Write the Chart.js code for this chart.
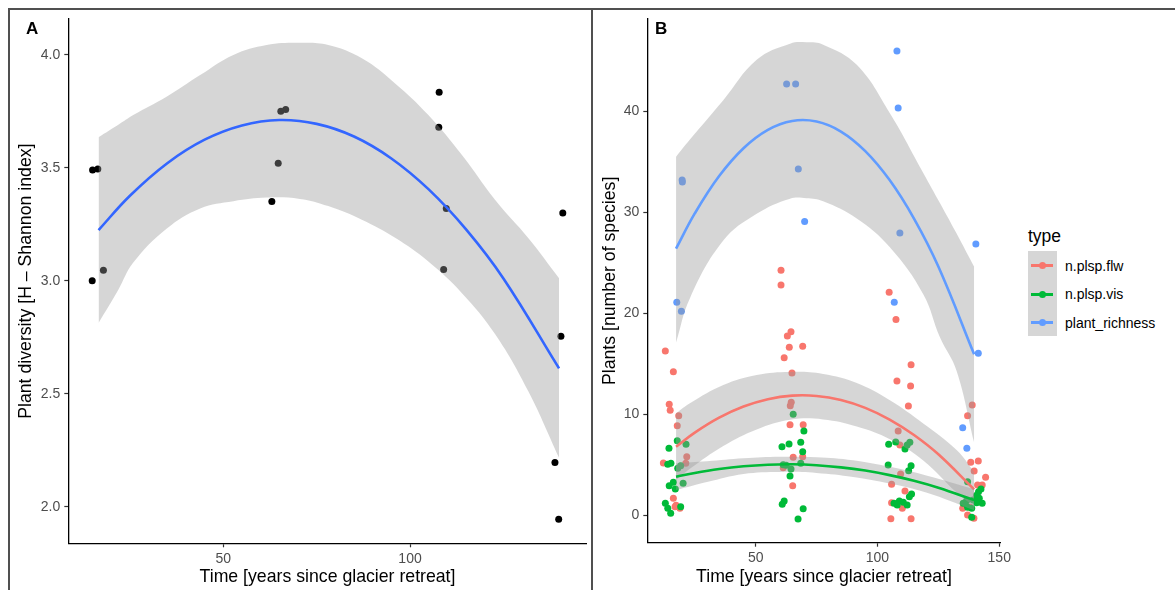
<!DOCTYPE html>
<html>
<head>
<meta charset="utf-8">
<script src="https://cdn.jsdelivr.net/npm/chart.js@4.4.1/dist/chart.umd.min.js"></script>
<style>
  body { margin: 0; background: #fff; font-family: "Liberation Sans", Arial, sans-serif; }
  #page { position: relative; width: 1175px; height: 590px; overflow: hidden; background: #fff; }
  .rule { position: absolute; background: #505050; }
  canvas { position: absolute; top: 0; }
  .tag { position: absolute; font-weight: bold; font-size: 17px; line-height: 17px; color: #000; }
  .lg { position: absolute; color: #000; }
  .key-line { position: absolute; height: 3px; }
  .key-dot { position: absolute; width: 7px; height: 7px; border-radius: 50%; }
</style>
</head>
<body>
<div id="page">
  <div class="rule" style="left:8px;top:8px;width:1167px;height:2px"></div>
  <div class="rule" style="left:8px;top:8px;width:2px;height:582px"></div>
  <div class="rule" style="left:591px;top:8px;width:2px;height:582px"></div>
  <canvas id="chartA" width="583" height="590" style="left:10px"></canvas>
  <canvas id="chartB" width="425" height="590" style="left:594px"></canvas>
  <div class="tag" style="left:26px;top:20px">A</div>
  <div class="tag" style="left:655px;top:20px">B</div>
  <div id="legend"></div>
</div>
<script>
// Panel A: Shannon diversity per plot
const timeA = [15.0, 16.4, 14.9, 17.9, 63.0, 64.7, 65.4, 66.7, 107.8, 107.7, 109.7, 109.0, 140.9, 140.4, 138.8, 139.8];
const shannon = [3.49, 3.494, 3.0, 3.046, 3.35, 3.52, 3.75, 3.758, 3.834, 3.679, 3.319, 3.049, 3.30, 2.754, 2.195, 1.944];

const fitAX = [16.6, 25, 35, 45, 55, 65, 75, 85, 95, 105, 115, 125, 139.9];
const fitAY = [3.224, 3.376, 3.520, 3.624, 3.687, 3.711, 3.694, 3.638, 3.541, 3.404, 3.227, 3.010, 2.612];

const bandAX = [16.6, 21.9, 25.9, 34.8, 43.8, 52.7, 61.6, 70.5, 78.1, 87.1, 96.0, 104.9, 113.9, 122.8, 131.7, 139.9];
const bandAUp = [3.635, 3.69, 3.733, 3.814, 3.910, 3.999, 4.043, 4.053, 4.043, 3.984, 3.873, 3.733, 3.556, 3.357, 3.188, 3.011];
const bandALo = [2.813, 2.96, 3.08, 3.23, 3.32, 3.352, 3.368, 3.362, 3.33, 3.27, 3.19, 3.085, 2.945, 2.763, 2.51, 2.217];

const xTicksA = [50, 100];
const yTicksA = [2.0, 2.5, 3.0, 3.5, 4.0];

// Panel B: plant counts by type
const flwX = [12.9, 16.2, 14.5, 14.9, 18.4, 17.8, 12.1, 21.7, 21.3, 16.2, 18.9, 16.9, 17.3,
  60.4, 60.4, 64.5, 63.0, 63.8, 69.3, 61.7, 64.9, 64.6, 64.2, 64.1, 69.5, 65.4, 69.3, 61.3, 65.2,
  104.8, 107.6, 108.0, 113.8, 113.6, 112.7, 108.5, 109.2, 109.5, 105.8, 111.3, 105.8, 110.2, 105.5, 113.8,
  138.9, 137.0, 138.3, 141.4, 139.7, 144.4, 141.1, 143.0, 135.0, 137.0, 139.6, 136.0, 138.0];
const flwY = [16.27, 14.22, 10.99, 10.40, 9.86, 8.87, 5.18, 5.80, 5.15, 1.68, 0.69, 0.85, 1.0,
  24.26, 22.8, 18.18, 17.75, 16.63, 16.73, 15.6, 14.09, 11.19, 10.85, 8.97, 8.97, 5.74, 5.80, 4.71, 2.93,
  22.08, 19.4, 13.3, 14.91, 12.80, 10.82, 8.35, 6.96, 4.09, 3.07, 2.41, 1.25, 0.69, -0.34, -0.34,
  10.92, 9.86, 5.25, 5.38, 4.39, 3.76, 3.0, 3.0, 0.69, 0.03, -0.3, 1.2, 0.8];

const visX = [14.4, 17.8, 21.4, 13.9, 15.2, 19.2, 18.0, 16.2, 14.5, 17.0, 20.2, 12.9, 13.9, 15.1, 19.2,
  65.4, 69.8, 68.5, 63.7, 60.8, 69.3, 68.5, 61.3, 62.5, 64.5, 64.1, 61.7, 60.9, 69.5, 67.4,
  104.6, 107.5, 113.3, 112.2, 111.3, 104.4, 113.8, 112.8, 114.0, 113.1, 106.8, 109.0, 110.6, 112.2, 108.1,
  142.5, 141.5, 140.7, 141.8, 143.0, 140.7, 139.3, 136.6, 135.2, 137.0, 138.7, 138.7, 137.0];
const visY = [6.63, 7.39, 7.03, 5.05, 5.15, 4.91, 4.65, 3.27, 2.93, 2.6, 3.17, 1.19, 0.69, 0.2, 0.85,
  10.0, 8.35, 7.23, 7.06, 6.79, 6.3, 5.15, 5.01, 4.95, 4.58, 3.89, 1.42, 1.09, 0.66, -0.37,
  7.03, 7.26, 7.23, 6.96, 6.56, 4.98, 4.91, 4.42, 2.11, 1.84, 1.19, 1.42, 1.29, 1.02, 1.02,
  2.6, 2.34, 1.98, 1.68, 1.19, 1.25, 1.51, 1.45, 1.19, 0.79, 0.69, -0.2, 3.33];

const richX = [19.8, 19.9, 17.6, 19.5, 62.7, 66.4, 67.5, 70.1, 108.0, 108.5, 109.2, 106.9, 140.4, 141.4, 135.0, 136.7];
const richY = [33.2, 33.0, 21.1, 20.2, 42.7, 42.7, 34.3, 29.1, 45.97, 40.33, 27.95, 21.1, 26.86, 16.04, 8.67, 6.63];

const fitBX = [17.3, 25, 35, 45, 55, 65, 75, 85, 95, 105, 115, 125, 139.7];
const fitFlw = [6.79, 8.19, 9.67, 10.77, 11.50, 11.85, 11.82, 11.42, 10.64, 9.48, 7.95, 6.04, 2.57];
const fitVis = [3.82, 4.20, 4.59, 4.86, 5.01, 5.05, 4.96, 4.75, 4.43, 3.98, 3.42, 2.73, 1.51];
const fitRich = [26.40, 29.89, 33.59, 36.35, 38.17, 39.05, 38.99, 38.00, 36.06, 33.19, 29.38, 24.63, 15.94];

const bandFlwX = [17.3, 23.0, 36.7, 50.4, 64.1, 77.7, 91.5, 105.1, 118.8, 132.5, 139.7];
const bandFlwUp = [10.1, 11.1, 12.9, 13.9, 14.2, 14.0, 13.1, 11.4, 9.1, 6.47, 4.3];
const bandFlwLo = [3.48, 4.6, 6.86, 8.5, 9.46, 9.5, 8.8, 7.54, 5.44, 2.25, 0.84];

const bandVisX = [17.3, 30, 45, 60, 75, 90, 105, 120, 139.7];
const bandVisUp = [5.15, 5.35, 5.65, 5.8, 5.75, 5.45, 4.8, 3.95, 2.6];
const bandVisLo = [2.5, 3.3, 4.1, 4.3, 4.2, 3.8, 3.15, 2.25, 0.5];

const bandRichX = [17.3, 23.0, 36.7, 50.4, 64.1, 70.9, 77.7, 91.5, 105.1, 118.8, 125.7, 132.5, 139.7];
const bandRichUp = [35.5, 37.2, 41.1, 45.1, 46.7, 46.83, 46.6, 44.6, 39.8, 33.9, 30.9, 27.9, 24.6];
const bandRichLo = [17.1, 21.5, 27.2, 29.85, 31.35, 31.4, 31.1, 29.4, 26.55, 21.9, 17.6, 14.3, 7.2];

const xTicksB = [50, 100, 150];
const yTicksB = [0, 10, 20, 30, 40];

const types = ["n.plsp.flw", "n.plsp.vis", "plant_richness"];
const typeColors = ["#F8766D", "#00BA38", "#619CFF"];

const FONT = '"Liberation Sans", Arial, sans-serif';
const RIBBON = "rgba(153,153,153,0.4)";

const pts = (xs, ys) => xs.map((x, i) => ({ x: x, y: ys[i] }));

function pointSet(xs, ys, color, order) {
  return { type: "scatter", data: pts(xs, ys), backgroundColor: color, borderWidth: 0,
    pointRadius: 3.5, pointHoverRadius: 3.5, order: order };
}
function fitLine(xs, ys, color, order) {
  return { type: "line", data: pts(xs, ys), borderColor: color, borderWidth: 2.6, pointRadius: 0,
    fill: false, tension: 0.4, order: order };
}
// upper edge fills down to the lower edge that follows it in the list
function ribbon(xs, up, lo, order) {
  const edge = { type: "line", borderColor: "transparent", borderWidth: 0, pointRadius: 0, tension: 0.4 };
  return [
    Object.assign({}, edge, { data: pts(xs, up), fill: "+1", backgroundColor: RIBBON, order: order }),
    Object.assign({}, edge, { data: pts(xs, lo), fill: false, order: order + 0.5 }),
  ];
}

function axes(o) {
  const tickFont = { family: FONT, size: 14 };
  const grid = { drawOnChartArea: false, drawTicks: true, tickLength: 4, tickWidth: 1.2, tickColor: "#333" };
  const border = { display: true, color: "#000", width: 1.3 };
  return {
    x: {
      type: "linear", min: o.xMin, max: o.xMax,
      afterBuildTicks: (s) => { s.ticks = o.xTicks.map((v) => ({ value: v })); },
      afterFit: (s) => { s.height = o.xHeight; },
      ticks: { font: tickFont, color: "#4D4D4D", padding: 3, maxRotation: 0 },
      grid: grid, border: border,
      title: { display: true, text: "Time [years since glacier retreat]", color: "#000",
        font: { family: FONT, size: 17.7 }, padding: { top: 0, bottom: 2.7 } },
    },
    y: {
      type: "linear", min: o.yMin, max: o.yMax,
      afterBuildTicks: (s) => { s.ticks = o.yTicks.map((v) => ({ value: v })); },
      afterFit: (s) => { s.width = o.yWidth; },
      ticks: { font: tickFont, color: "#4D4D4D", padding: 4, callback: o.yFmt },
      grid: grid, border: border,
      title: { display: true, text: o.yTitle, color: "#000",
        font: { family: FONT, size: 17.7 }, padding: { top: 5, bottom: 0 } },
    },
  };
}

const common = {
  responsive: false, animation: false, events: [],
  plugins: { legend: { display: false }, tooltip: { enabled: false } },
};

new Chart(document.getElementById("chartA"), {
  type: "scatter",
  data: {
    datasets: [
      fitLine(fitAX, fitAY, "#3366FF", 0),
      ...ribbon(bandAX, bandAUp, bandALo, 1),
      pointSet(timeA, shannon, "#000000", 5),
    ],
  },
  options: Object.assign({}, common, {
    layout: { autoPadding: false, padding: { top: 19, right: 6.3, bottom: 0, left: 0 } },
    scales: axes({
      xMin: 8.5, xMax: 147.3, xTicks: xTicksA, xHeight: 46.7,
      yMin: 1.838, yMax: 4.158, yTicks: yTicksA, yWidth: 58.3,
      yTitle: "Plant diversity [H \u2013 Shannon index]", yFmt: (v) => Number(v).toFixed(1),
    }),
  }),
});

new Chart(document.getElementById("chartB"), {
  type: "scatter",
  data: {
    datasets: [
      fitLine(fitBX, fitRich, typeColors[2], 10),
      ...ribbon(bandRichX, bandRichUp, bandRichLo, 11),
      fitLine(fitBX, fitVis, typeColors[1], 12),
      ...ribbon(bandVisX, bandVisUp, bandVisLo, 13),
      fitLine(fitBX, fitFlw, typeColors[0], 14),
      ...ribbon(bandFlwX, bandFlwUp, bandFlwLo, 15),
      pointSet(richX, richY, typeColors[2], 20),
      pointSet(visX, visY, typeColors[1], 21),
      pointSet(flwX, flwY, typeColors[0], 22),
    ],
  },
  options: Object.assign({}, common, {
    layout: { autoPadding: false, padding: { top: 19, right: 18.3, bottom: 0, left: 0 } },
    scales: axes({
      xMin: 5.5, xMax: 150.6, xTicks: xTicksB, xHeight: 47.3,
      yMin: -2.71, yMax: 49.14, yTicks: yTicksB, yWidth: 53.3,
      yTitle: "Plants [number of species]", yFmt: (v) => String(v),
    }),
  }),
});

// legend for panel B, ggplot style
const legend = document.getElementById("legend");
legend.innerHTML =
  '<div class="lg" style="left:1028px;top:225px;font-size:17.5px;line-height:22px">type</div>' +
  '<div class="lg" style="left:1028px;top:251px;width:29px;height:85px;background:#D6D6D6"></div>';
types.forEach((t, i) => {
  const y = 265.7 + i * 28.5;
  legend.innerHTML +=
    `<div class="key-line" style="left:1031px;top:${y - 1.5}px;width:22px;background:${typeColors[i]}"></div>` +
    `<div class="key-dot" style="left:${1042.3 - 3.5}px;top:${y - 3.5}px;background:${typeColors[i]}"></div>` +
    `<div class="lg" style="left:1065px;top:${y - 10}px;font-size:14px;line-height:20px">${t}</div>`;
});
</script>
</body>
</html>
